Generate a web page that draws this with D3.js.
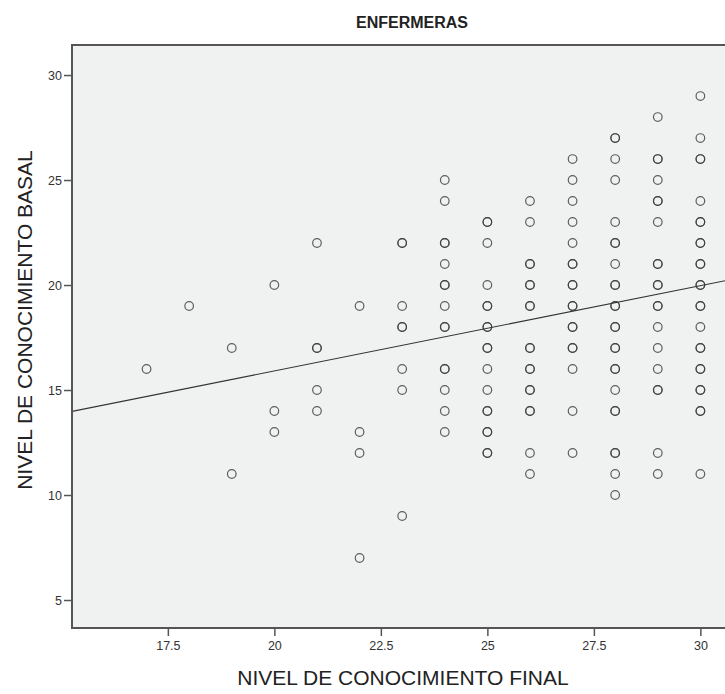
<!DOCTYPE html>
<html><head><meta charset="utf-8">
<script src="https://cdn.jsdelivr.net/npm/d3@7"></script>
<style>
html,body{margin:0;padding:0;background:#fff;}
svg{display:block;font-family:"Liberation Sans",Arial,sans-serif;}
</style></head>
<body>
<svg id="chart" width="725" height="694"></svg>
<script>
// ---- data ----
const title = "ENFERMERAS";
const xTitle = "NIVEL DE CONOCIMIENTO FINAL";
const yTitle = "NIVEL DE CONOCIMIENTO BASAL";
const finalScores = [17,18,19,20,21,22,23,24,25,26,27,28,29,30];
const basalByFinal = [
  [16],
  [19],
  [17,11],
  [20,14,13],
  [22,17,17,15,14],
  [19,13,12,7],
  [22,22,19,18,18,16,15,9],
  [25,24,22,22,21,20,20,19,18,18,16,16,15,14,13],
  [23,23,22,20,19,19,18,18,17,17,16,15,14,14,13,13,12,12],
  [24,23,21,21,20,20,19,19,17,17,16,16,15,15,14,14,12,11],
  [26,25,24,23,22,21,21,20,20,19,19,18,18,17,17,16,14,12],
  [27,27,26,25,23,22,22,21,20,20,19,19,18,18,17,17,16,16,15,14,14,12,12,11,10],
  [28,26,26,25,24,24,23,21,21,20,20,19,19,18,17,16,15,15,12,11],
  [29,27,26,26,24,23,23,22,22,21,21,20,20,19,19,18,17,17,16,16,15,15,14,14,11]
];
const xTicks = [17.5,20,22.5,25,27.5,30];
const yTicks = [5,10,15,20,25,30];
const fitIntercept = 7.79;
const fitSlope = 0.406;

// ---- layout ----
const plot = {left:72, top:45, right:751.5, bottom:628};
const svg = d3.select("#chart");
const x = d3.scaleLinear().domain([15.25, 31.2]).range([plot.left, plot.right]);
const y = d3.scaleLinear().domain([3.667, 31.43]).range([plot.bottom, plot.top]);

svg.append("defs").append("clipPath").attr("id","clip")
  .append("rect").attr("x",plot.left).attr("y",plot.top)
  .attr("width",plot.right-plot.left).attr("height",plot.bottom-plot.top);

svg.append("rect").attr("x",plot.left).attr("y",plot.top)
  .attr("width",plot.right-plot.left).attr("height",plot.bottom-plot.top)
  .attr("fill","#f0f1f1");

const points = [];
finalScores.forEach((f,i)=>basalByFinal[i].forEach(b=>points.push({x:f,y:b})));

const g = svg.append("g").attr("clip-path","url(#clip)");
g.selectAll("circle").data(points).enter().append("circle")
  .attr("cx",d=>x(d.x)).attr("cy",d=>y(d.y)).attr("r",4.3)
  .attr("fill","none").attr("stroke","#3a3a3a").attr("stroke-opacity",0.8).attr("stroke-width",1.2);

const [x0,x1] = x.domain();
g.append("line")
  .attr("x1",x(x0)).attr("y1",y(fitIntercept+fitSlope*x0))
  .attr("x2",x(x1)).attr("y2",y(fitIntercept+fitSlope*x1))
  .attr("stroke","#333").attr("stroke-width",1.1);

// axes
const fmt = d => String(d);
const xAxis = svg.append("g").attr("transform",`translate(0,${plot.bottom})`)
  .call(d3.axisBottom(x).tickValues(xTicks).tickFormat(fmt).tickSize(8).tickSizeOuter(0).tickPadding(5));
const yAxis = svg.append("g").attr("transform",`translate(${plot.left},0)`)
  .call(d3.axisLeft(y).tickValues(yTicks).tickFormat(fmt).tickSize(8).tickSizeOuter(0).tickPadding(2));
[xAxis,yAxis].forEach(a=>{
  a.select(".domain").remove();
  a.selectAll(".tick line").attr("stroke","#555").attr("stroke-width",1.5);
  a.selectAll(".tick text").attr("fill","#333").style("font-size","12.5px")
   .style("font-family","'Liberation Sans',Arial,sans-serif");
});

// border (left, top, bottom)
svg.append("path")
  .attr("d",`M${plot.right},${plot.top}H${plot.left}V${plot.bottom}H${plot.right}`)
  .attr("fill","none").attr("stroke","#555").attr("stroke-width",2);

// titles
svg.append("text").attr("x",412).attr("y",28).attr("text-anchor","middle")
  .attr("fill","#222").style("font-size","16px").style("font-weight","bold").text(title);
svg.append("text").attr("x",403).attr("y",685).attr("text-anchor","middle")
  .attr("fill","#222").style("font-size","21px").text(xTitle);
svg.append("text").attr("transform","translate(32,320) rotate(-90)").attr("text-anchor","middle")
  .attr("fill","#222").style("font-size","21px").text(yTitle);
</script>
</body></html>
